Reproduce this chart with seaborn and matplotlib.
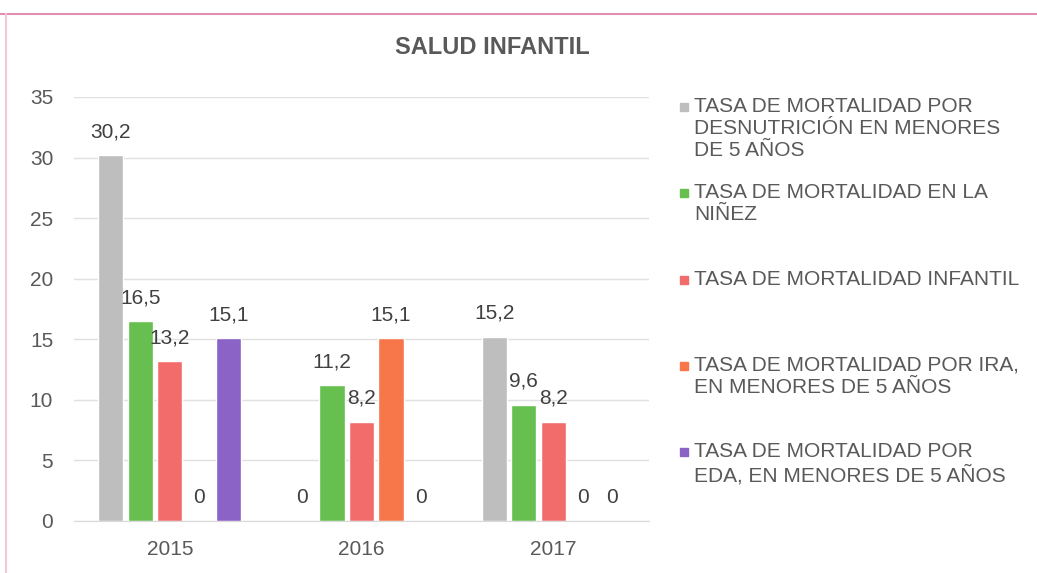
import seaborn as sns
import matplotlib.pyplot as plt
import pandas as pd
from matplotlib.patches import Rectangle
from matplotlib.lines import Line2D

# datos
anios = ['2015', '2016', '2017']
series = [
    'TASA DE MORTALIDAD POR\nDESNUTRICIÓN EN MENORES\nDE 5 AÑOS',
    'TASA DE MORTALIDAD EN LA\nNIÑEZ',
    'TASA DE MORTALIDAD INFANTIL',
    'TASA DE MORTALIDAD POR IRA,\nEN MENORES DE 5 AÑOS',
    'TASA DE MORTALIDAD POR\nEDA, EN MENORES DE 5 AÑOS',
]
desnutricion = [30.2, 0, 15.2]
ninez = [16.5, 11.2, 9.6]
infantil = [13.2, 8.2, 8.2]
ira = [0, 15.1, 0]
eda = [15.1, 0, 0]
valores = [desnutricion, ninez, infantil, ira, eda]
colores = ['#BEBEBE', '#66BF4F', '#F36C6C', '#F7774A', '#8B62C6']

rows = []
for s, vals in zip(series, valores):
    for a, v in zip(anios, vals):
        rows.append({'anio': a, 'serie': s, 'valor': v})
df = pd.DataFrame(rows)

sns.set_style('white')
plt.rcParams['font.family'] = ['Liberation Sans', 'DejaVu Sans']
txt = '#595959'

fig = plt.figure(figsize=(10.37, 5.73), dpi=100)
ax = fig.add_axes([74 / 1037, 1 - 521 / 573, 575 / 1037, 424 / 573])

sns.barplot(data=df, x='anio', y='valor', hue='serie', hue_order=series,
            palette=colores, saturation=1, width=0.77, gap=0.15,
            errorbar=None, legend=False, ax=ax)

for cont in ax.containers:
    labs = [f'{b.get_height():g}'.replace('.', ',') for b in cont]
    ax.bar_label(cont, labels=labs, padding=10, fontsize=15, color='#404040')

ax.set_xlim(-0.5, 2.5)
ax.set_ylim(0, 35)
ax.set_yticks(range(0, 36, 5))
ax.set_xlabel('')
ax.set_ylabel('')
ax.yaxis.grid(True, color='#E0E0E0', lw=1)
ax.set_axisbelow(True)
for sp in ['top', 'right', 'left']:
    ax.spines[sp].set_visible(False)
ax.spines['bottom'].set_color('#D9D9D9')
ax.tick_params(axis='y', length=0, pad=15, labelsize=15, labelcolor=txt)
ax.tick_params(axis='x', length=0, pad=14, labelsize=15, labelcolor=txt)

fig.text(492 / 1037, 1 - 48 / 573, 'SALUD INFANTIL', ha='center', va='center',
         fontsize=17, fontweight='bold', color=txt)

# leyenda
for i, (s, c) in enumerate(zip(series, colores)):
    yc = 107 + i * 86.3
    fig.add_artist(Rectangle((680 / 1037, 1 - (yc + 4) / 573), 8 / 1037, 8 / 573,
                             transform=fig.transFigure, color=c))
    fig.text(694 / 1037, 1 - (yc - 10) / 573, s, ha='left', va='top',
             fontsize=15, color=txt, linespacing=1.2)

# marco
fig.add_artist(Line2D([0, 1], [1 - 14 / 573, 1 - 14 / 573], transform=fig.transFigure,
                      color='#E38FB4', lw=1.5))
fig.add_artist(Line2D([6 / 1037, 6 / 1037], [0, 1 - 14 / 573], transform=fig.transFigure,
                      color='#F0C8D8', lw=1.5))

fig.savefig('out.png', dpi=100)
